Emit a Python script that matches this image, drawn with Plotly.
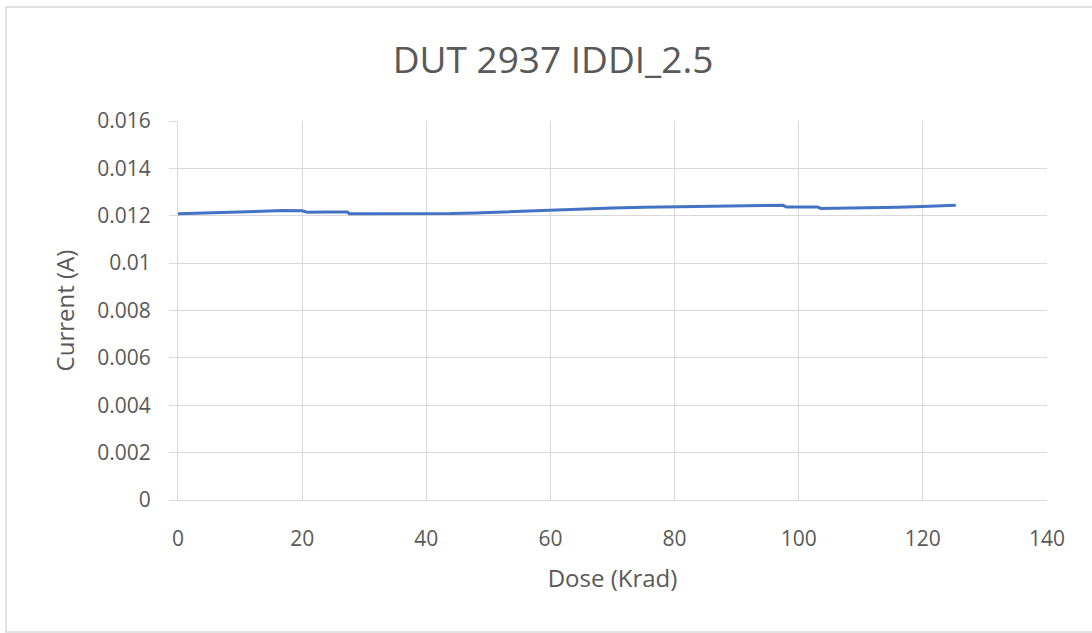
import plotly.graph_objects as go

dose_krad = [0, 2, 5, 8, 11, 14, 17, 20, 20.8, 24, 27.3, 27.6, 32, 36, 40, 44, 48,
             52, 56, 60, 65, 70, 75, 80, 85, 90, 94, 97.5, 98, 103, 103.6, 108, 112,
             116, 120, 123, 125.3]
current_a = [0.01208, 0.01210, 0.01212, 0.01214, 0.01217, 0.01220, 0.01222, 0.01221,
             0.01215, 0.01216, 0.01216, 0.01208, 0.01208, 0.01208, 0.01208, 0.01209,
             0.01212, 0.01216, 0.01221, 0.01226, 0.01230, 0.01233, 0.01236, 0.01238,
             0.01240, 0.01242, 0.01244, 0.01244, 0.01237, 0.01237, 0.01231, 0.01232,
             0.01234, 0.01236, 0.01239, 0.01242, 0.01244]

y_ticks = [0, 0.002, 0.004, 0.006, 0.008, 0.01, 0.012, 0.014, 0.016]
y_ticktext = ["0", "0.002", "0.004", "0.006", "0.008", "0.01", "0.012", "0.014", "0.016"]
x_ticks = [0, 20, 40, 60, 80, 100, 120, 140]

FONT = "Open Sans"
GRID = "#d9d9d9"
TXT = "#595959"

fig = go.Figure()
fig.add_trace(go.Scatter(x=dose_krad, y=current_a, mode="lines",
                         line=dict(color="#4472C4", width=3), showlegend=False))

L, R, T, B = 178, 1047, 121, 500
W, H = 1092, 633

def px_x(p):
    return (p - L) / (R - L)

def px_y(p):
    return (B - p) / (B - T)

fig.update_layout(
    width=W, height=H,
    margin=dict(l=L, r=W - R, t=T, b=H - B),
    paper_bgcolor="white", plot_bgcolor="white",
    font=dict(family=FONT, color=TXT, size=21),
    title=dict(text="DUT 2937 IDDI_2.5", x=px_x(553), xref="paper", xanchor="center",
               y=1 - 60 / H, yanchor="middle", yref="container",
               font=dict(family=FONT, size=37, color=TXT)),
    xaxis=dict(range=[0, 140], tickvals=x_ticks, showgrid=True, gridcolor=GRID, gridwidth=1,
               showline=True, linecolor=GRID, linewidth=1, zeroline=False, ticks="",
               tickfont=dict(size=21, color=TXT), ticklabelstandoff=20,
               title=dict(text="Dose (Krad)", font=dict(size=24, color=TXT), standoff=18)),
    yaxis=dict(range=[0, 0.016], tickvals=y_ticks, ticktext=y_ticktext, showgrid=True,
               gridcolor=GRID, gridwidth=1, showline=True, linecolor=GRID, linewidth=1,
               zeroline=False, ticks="outside", ticklen=8, tickcolor=GRID,
               tickfont=dict(size=21, color=TXT), ticklabelstandoff=14,
               title=dict(text="Current (A)", font=dict(size=24, color=TXT), standoff=15)),
    shapes=[dict(type="rect", xref="paper", yref="paper",
                 x0=px_x(6), x1=px_x(1100), y0=px_y(632), y1=px_y(7),
                 line=dict(color="#d9d9d9", width=1.5), fillcolor="rgba(0,0,0,0)", layer="below")],
)

fig.write_html("out.html", config={"displayModeBar": False},
               post_script="document.body.style.margin='0';")
